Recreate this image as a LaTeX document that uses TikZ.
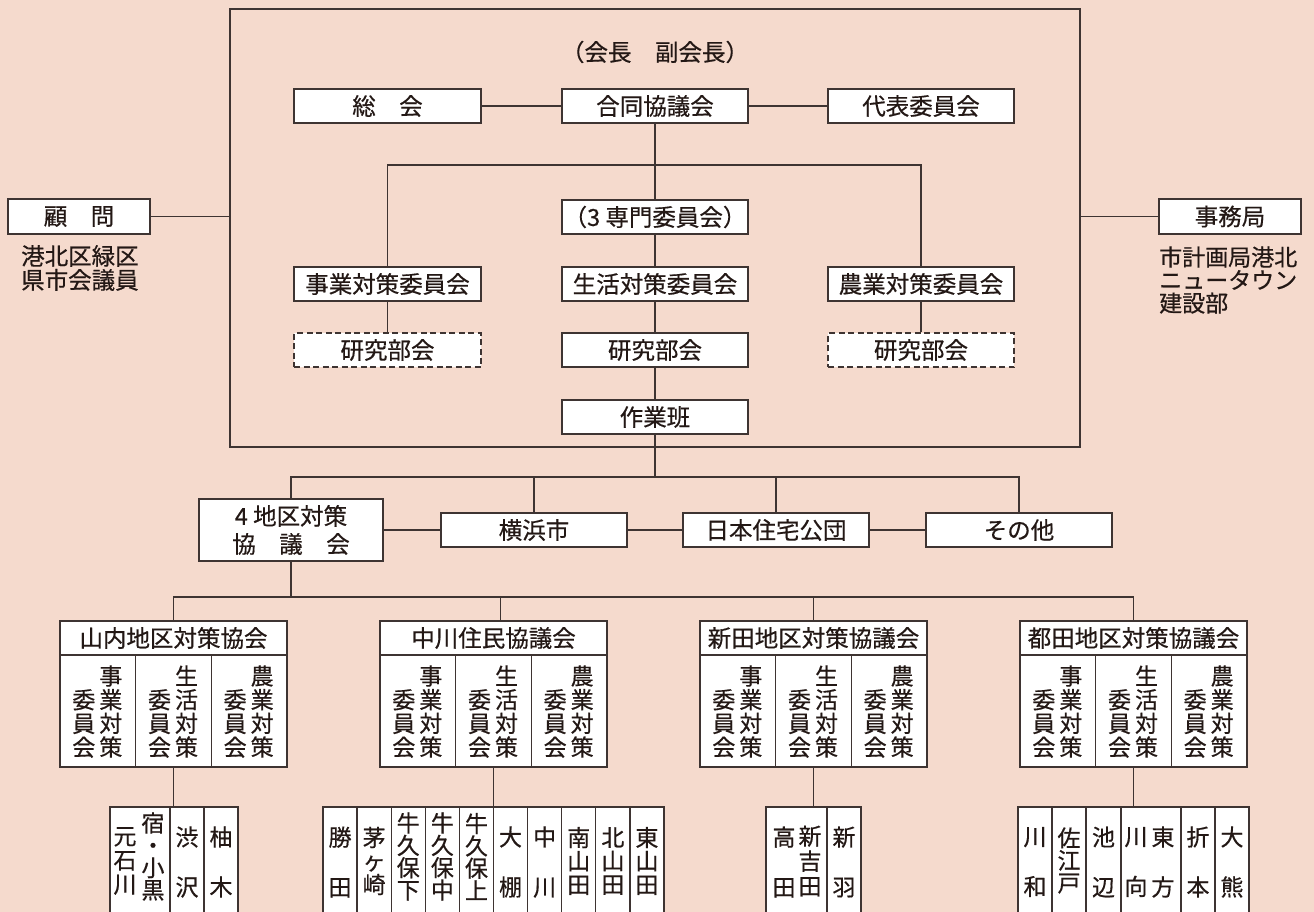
\documentclass[tikz,border=0pt]{standalone}
\usepackage{fontspec}
\setmainfont{Noto Sans CJK JP}[FakeBold=0.5]
\definecolor{bg}{RGB}{245,218,205}
\definecolor{ln}{RGB}{62,52,50}
\definecolor{tx}{RGB}{35,24,21}
\tikzset{
  box/.style={draw=ln, fill=white, line width=1.3pt, inner sep=0pt, text=tx, align=center,
    font={\fontsize{23.5}{28}\selectfont}},
  dbox/.style={box, dash pattern=on 6pt off 3.5pt},
  bigframe/.style={draw=ln, line width=1.3pt, inner sep=0pt},
  conn/.style={draw=ln, line width=1.3pt},
  txt/.style={inner sep=0pt, text=tx, font={\fontsize{23.5}{24}\selectfont}},
}
\newcommand{\bx}[7][box]{%
  \pgfmathsetmacro{\mybw}{(#5)-(#3)}\pgfmathsetmacro{\mybh}{(#6)-(#4)}%
  \node[#1, minimum width=\mybw pt, minimum height=\mybh pt] (#2) at ({((#3)+(#5))/2},{((#4)+(#6))/2}) {#7};}
\newcommand{\vs}[5]{%
  \node[inner sep=0pt, text=tx, align=center, font={\fontsize{23}{#4}\selectfont\lineskiplimit=-40pt}] (#1) at ({#2},{#3}) {#5};}
\begin{document}
\begin{tikzpicture}[x=1pt,y=-1pt]
\useasboundingbox (0,0) rectangle (1314,912);
\clip (0,0) rectangle (1314,912);
\fill[bg] (0,0) rectangle (1314,912);

% big frame
\bx[bigframe]{fr}{230}{9}{1080}{447}{}
\node[txt] (kaicho) at (655,52) {（会長　副会長）};

\bx{sokai}{294}{89}{481}{123}{総　会}
\bx{godo}{562}{89}{748}{123}{合同協議会}
\bx{daihyo}{828}{89}{1014}{123}{代表委員会}
\bx{senmon}{562}{200}{748}{234}{（3 専門委員会）}
\bx{jigyo}{294}{267}{481}{301}{事業対策委員会}
\bx{seikatsu}{562}{267}{748}{301}{生活対策委員会}
\bx{nogyo}{828}{267}{1014}{301}{農業対策委員会}
\bx[dbox]{ken1}{294}{333}{481}{367}{研究部会}
\bx{ken2}{562}{333}{748}{367}{研究部会}
\bx[dbox]{ken3}{828}{333}{1014}{367}{研究部会}
\bx{sagyo}{562}{400}{748}{434}{作業班}

\bx{komon}{8}{199}{150}{234}{顧　問}
\node[txt, anchor=west, align=left] (komonnote) at (21,268) {港北区緑区\\県市会議員};
\bx{jimu}{1159}{199}{1301}{234}{事務局}
\node[txt, anchor=west, align=left, font={\fontsize{23}{23}\selectfont}] (jimunote) at (1159,280) {市計画局港北\\ニュータウン\\建設部};

\coordinate (b1) at (655,165);
\draw[conn] (sokai) -- (godo);
\draw[conn] (godo) -- (daihyo);
\draw[conn] (godo.south) -- (senmon.north);
\draw[conn] (jigyo.north) |- (b1) -| (nogyo.north);
\draw[conn] (senmon) -- (seikatsu);
\draw[conn] (seikatsu) -- (ken2);
\draw[conn] (ken2) -- (sagyo);
\draw[conn] (jigyo) -- (ken1);
\draw[conn] (nogyo) -- (ken3);
\draw[conn] (komon.east) -- (komon.east -| fr.west);
\draw[conn] (jimu.west) -- (jimu.west -| fr.east);

% second level
\coordinate (b2) at (655,477);
\bx{chiku}{199}{499}{383}{561}{4 地区対策\\協　議　会}
\bx{yoko}{441}{513}{627}{547}{横浜市}
\bx{nihon}{683}{513}{869}{547}{日本住宅公団}
\bx{sonota}{926}{513}{1112}{547}{その他}
\draw[conn] (sagyo.south) -- (b2);
\draw[conn] (chiku.north) |- (b2) -| (sonota.north);
\draw[conn] (yoko.north) -- (yoko.north |- b2);
\draw[conn] (nihon.north) -- (nihon.north |- b2);
\draw[conn] (chiku) -- (yoko);
\draw[conn] (yoko) -- (nihon);
\draw[conn] (nihon) -- (sonota);

% districts
\coordinate (b3) at (291,597);
\foreach \n/\x/\nm in {1/60/山内地区対策協会, 2/380/中川住民協議会, 3/700/新田地区対策協議会, 4/1020/都田地区対策協議会}{
  \bx{d\n}{\x}{621}{\x+227}{655}{\nm}
  \foreach \k/\ca/\cb in {0/事/業, 1/生/活, 2/農/業}{
    \bx{d\n-\k}{\x+\k*75.667}{655}{\x+(\k+1)*75.667}{767}{}
    \vs{r\n-\k}{\x+(\k+0.5)*75.667+13}{711.5}{23.7}{\ca\\\cb\\対\\策}
    \vs{l\n-\k}{\x+(\k+0.5)*75.667-14}{723.5}{23.7}{委\\員\\会}
  }
}
\draw[conn] (chiku.south) -- (b3);
\draw[conn] (d1.north) |- (b3) -| (d4.north);
\draw[conn] ([xshift=7pt]d2.north) -- ([xshift=7pt]d2.north |- b3);
\draw[conn] (d3.north) -- (d3.north |- b3);

% villages: Yamauchi
\bx{v1a}{110}{807}{170}{930}{}
\bx{v1b}{170}{807}{204}{930}{}
\bx{v1c}{204}{807}{238}{930}{}
\vs{t1a}{125}{861}{24}{元\\石\\川}
\vs{t1b}{153}{856.5}{22.3}{宿\\・\\小\\黒}
\vs{t1c}{187}{862}{50}{渋\\沢}
\vs{t1d}{221}{862}{50}{柚\\木}
\draw[conn] (d1-1.south) -- (d1-1.south |- v1b.north);

% Nakagawa
\foreach \i in {0,...,9}{
  \bx{v2-\i}{323+34.1*\i}{807}{323+34.1*(\i+1)}{930}{}
}
\vs{t2a}{340.05}{862}{50}{勝\\田}
\vs{t2b}{374.15}{861}{23.5}{茅\\ヶ\\崎}
\vs{t2c}{408.25}{856.5}{22.3}{牛\\久\\保\\下}
\vs{t2d}{442.35}{856.5}{22.3}{牛\\久\\保\\中}
\vs{t2e}{476.45}{856.5}{22.3}{牛\\久\\保\\上}
\vs{t2f}{510.55}{862}{50}{大\\棚}
\vs{t2g}{544.65}{862}{50}{中\\川}
\vs{t2h}{578.75}{861}{23.5}{南\\山\\田}
\vs{t2i}{612.85}{861}{23.5}{北\\山\\田}
\vs{t2j}{646.95}{861}{23.5}{東\\山\\田}
\draw[conn] (d2-1.south) -- (d2-1.south |- v2-5.north);

% Nitta
\bx{v3a}{766}{807}{827}{930}{}
\bx{v3b}{827}{807}{861}{930}{}
\vs{t3a}{784}{862}{50}{高\\田}
\vs{t3b}{810}{861}{25}{新\\吉\\田}
\vs{t3c}{844}{862}{50}{新\\羽}
\draw[conn] (d3-1.south) -- (d3-1.south |- v3a.north);

% Tsuda
\bx{v4a}{1018}{807}{1052}{930}{}
\bx{v4b}{1052}{807}{1086}{930}{}
\bx{v4c}{1086}{807}{1121}{930}{}
\bx{v4d}{1121}{807}{1181}{930}{}
\bx{v4e}{1181}{807}{1215}{930}{}
\bx{v4f}{1215}{807}{1249}{930}{}
\vs{t4a}{1035}{862}{50}{川\\和}
\vs{t4b}{1069}{860.5}{22.5}{佐\\江\\戸}
\vs{t4c}{1103.5}{862}{50}{池\\辺}
\vs{t4d}{1136}{862}{50}{川\\向}
\vs{t4e}{1163}{862}{50}{東\\方}
\vs{t4f}{1198}{862}{50}{折\\本}
\vs{t4g}{1232}{862}{50}{大\\熊}
\draw[conn] (d4-1.south) -- (d4-1.south |- v4d.north);
\end{tikzpicture}
\end{document}
